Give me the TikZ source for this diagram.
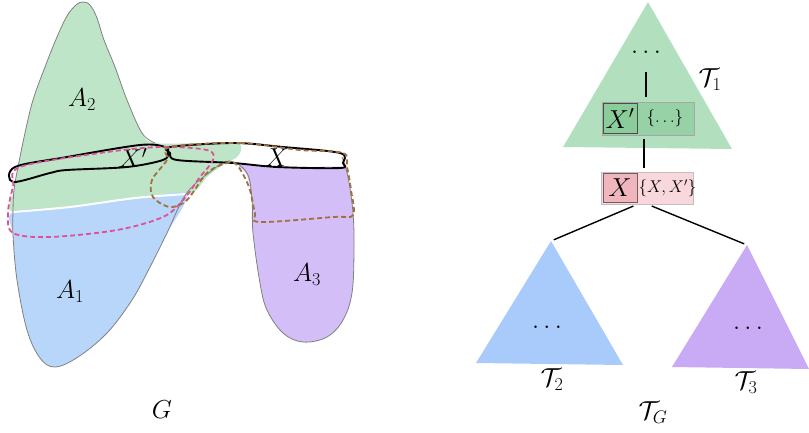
\RequirePackage{fix-cm}
\documentclass[tikz,border=0pt]{standalone}
\usepackage{tikz}
\usetikzlibrary{positioning}

\definecolor{regiongreen}{RGB}{191,229,200}
\definecolor{regionblue}{RGB}{184,213,250}
\definecolor{regionpurple}{RGB}{212,190,247}
\definecolor{treegreen}{RGB}{178,224,190}
\definecolor{treeblue}{RGB}{168,203,252}
\definecolor{treepurple}{RGB}{200,170,245}
\definecolor{boxgreen}{RGB}{150,210,166}
\definecolor{baggreen}{RGB}{138,204,154}
\definecolor{bagpink}{RGB}{248,216,220}
\definecolor{bagred}{RGB}{240,182,190}
\definecolor{sepink}{RGB}{224,80,154}
\definecolor{sebrown}{RGB}{160,112,64}

\tikzset{
  outline/.style={gray, line width=0.8pt},
  separator/.style={black, line width=1.9pt},
  sepdash/.style={line width=1.8pt, dash pattern=on 5pt off 3pt},
  edge/.style={black, line width=1.4pt},
  setbox/.style={draw=gray!70, line width=1pt, minimum width=92pt, minimum height=33pt, inner sep=0pt},
  bagbox/.style={draw=black!70, line width=1pt, minimum width=34pt, minimum height=30pt, inner sep=0pt},
  settext/.style={font=\fontsize{17}{20}\selectfont, inner sep=1pt}
}

\begin{document}
\begin{tikzpicture}[x=1pt,y=-1pt,font=\fontsize{26}{30}\selectfont]
    \useasboundingbox (0,0) rectangle (809,432);

    % Region A2
    \fill[regiongreen] plot[smooth cycle, tension=0.6] coordinates {(13,212) (14,190) (18,167) (25,133) (33,100) (45,67) (57,37) (67,16) (76,5) (83,2) (90,5) (97,18) (104,40) (115,67) (127,100) (142,133) (155,143) (200,143) (236,143) (241,150) (236,158) (226,163) (208,176) (187,196) (135,199) (70,207)};

    % Region A1
    \fill[regionblue] plot[smooth cycle, tension=0.55] coordinates {(13,212) (70,207) (135,199) (186,194) (167,233) (150,267) (132,300) (107,333) (78,357) (55,367) (40,358) (27,330) (17,280) (13,235)};
    \draw[white, line width=2pt] plot[smooth] coordinates {(13,212) (70,207) (135,198) (187,194)};

    % Region A3
    \fill[regionpurple] plot[smooth cycle, tension=0.6] coordinates {(240,165) (277,168) (342,167) (348,177) (353,213) (354,250) (352,293) (343,320) (327,337) (303,342) (283,333) (267,310) (260,283) (253,233) (252,200) (247,175)};

    % Outline of G
    \draw[outline] plot[smooth, tension=0.6] coordinates {(155,143) (142,133) (127,100) (115,67) (104,40) (97,18) (90,5) (83,2) (76,5) (67,16) (57,37) (45,67) (33,100) (25,133) (18,167) (14,190) (13,212) (13,235) (17,280) (27,330) (40,358) (55,367) (78,357) (107,333) (132,300) (150,267) (167,233) (186,194) (210,172) (229,161) (247,173) (252,200) (253,233) (260,283) (267,310) (283,333) (303,342) (327,337) (343,320) (352,293) (354,250) (353,213) (348,177) (342,157)};

    % Separator X'
    \draw[separator] plot[smooth cycle, tension=0.55] coordinates {(15,167) (67,157) (140,145) (165,147) (168,153) (163,160) (127,167) (67,170) (50,173) (13,182)};
    \node (lXp) at (133,158) {$X'$};

    % Separator X
    \draw[separator] plot[smooth cycle, tension=0.55] coordinates {(170,147) (233,143) (283,147) (340,153) (343,163) (340,168) (277,167) (233,163) (177,160) (170,153)};
    \node (lX) at (277,158) {$X$};

    % Pink dashed set
    \draw[sepdash, sepink] plot[smooth cycle, tension=0.55] coordinates {(20,167) (100,153) (160,147) (207,150) (213,160) (200,177) (183,200) (163,217) (117,230) (50,237) (13,233) (8,213) (13,187)};

    % Brown dashed set
    \draw[sepdash, sebrown] plot[smooth cycle, tension=0.55] coordinates {(170,147) (240,143) (300,150) (343,153) (347,167) (351,190) (353,215) (333,217) (260,222) (255,213) (249,187) (237,165) (227,163) (207,173) (187,200) (170,207) (153,197) (152,180) (167,160)};

    % Labels of G
    \node (lA2) at (82,100) {$A_2$};
    \node (lA1) at (70,292) {$A_1$};
    \node (lA3) at (307,275) {$A_3$};
    \node (lG) at (162,410) {$G$};

    % Tree T1
    \fill[treegreen] (648,2) coordinate (top1) -- (732,149) -- (563,147) -- cycle;
    \node (dots1) at (646,52) {$\dots$};
    \node (T1) at (710,80) {$\mathcal{T}_1$};
    \node[setbox, fill=boxgreen] (bxp) at (648,118.5) {};
    \node[bagbox, fill=baggreen, anchor=west] (xp) at ([xshift=1pt]bxp.west) {$X'$};
    \node[settext, right=8pt of xp] (setp) {$\{\dots\}$};

    % Bag X
    \node[setbox, fill=bagpink, draw=gray!50, minimum height=32pt] (bx) at (647,188) {};
    \node[bagbox, fill=bagred, draw=black!50!bagred, minimum height=29pt, anchor=west] (x) at ([xshift=2pt]bx.west) {$X$};
    \node[settext, right=0pt of x] (setx) {$\{X,X'\}$};

    % Trees T2 and T3
    \fill[treeblue] (551,241) coordinate (top2) -- (623,365) -- (476,363) -- cycle;
    \node (dots2) at (547,327) {$\dots$};
    \node (T2) at (552,380) {$\mathcal{T}_2$};
    \fill[treepurple] (747,245) coordinate (top3) -- (809,369) -- (672,367) -- cycle;
    \node (dots3) at (748,328) {$\dots$};
    \node (T3) at (746,383) {$\mathcal{T}_3$};
    \node (TG) at (653,413) {$\mathcal{T}_G$};

    % Tree edges
    \draw[edge, shorten <=15pt, shorten >=5pt] (dots1) -- (dots1 |- bxp.north);
    \draw[edge, shorten <=3pt, shorten >=4pt] ([xshift=-4pt]bxp.south) -- ([xshift=-3pt]bx.north);
    \draw[edge, shorten <=4pt, shorten >=3pt] ([xshift=-10pt]bx.south) -- (top2);
    \draw[edge, shorten <=4pt, shorten >=3pt] ([xshift=1pt]bx.south) -- (top3);

\end{tikzpicture}
\end{document}
